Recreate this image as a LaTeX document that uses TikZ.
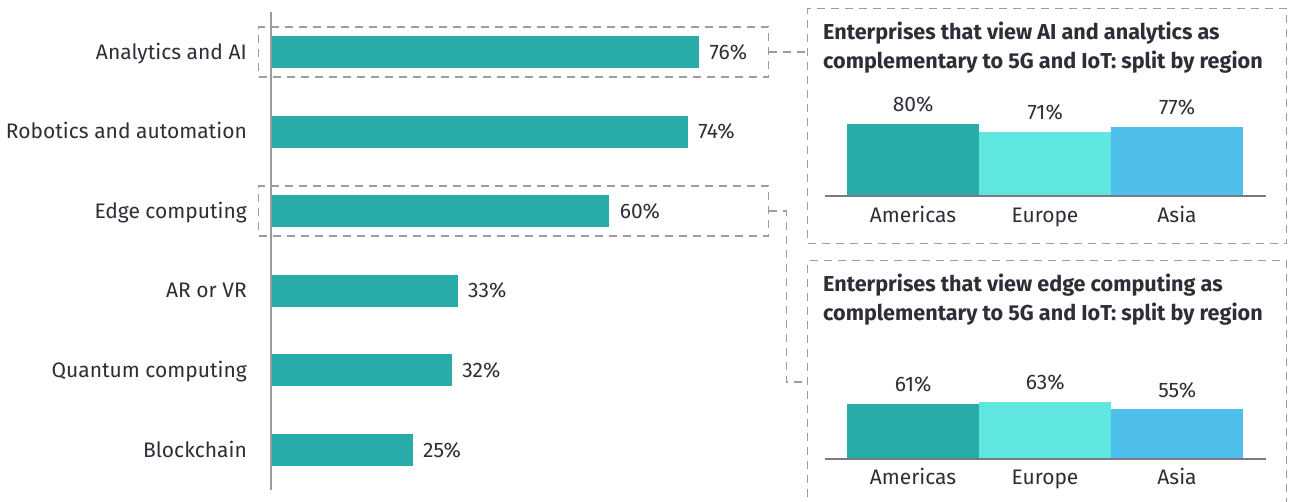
\documentclass[tikz,border=0pt]{standalone}
\usepackage{fontspec}
\setmainfont{Fira Sans}
\definecolor{teal1}{HTML}{27ACAA}
\definecolor{europe}{HTML}{60E6E1}
\definecolor{asia}{HTML}{4EBEEB}
\definecolor{txt}{HTML}{2E2E38}
\definecolor{axgray}{HTML}{9A9AA2}
\definecolor{ax2gray}{HTML}{7A7A84}
\definecolor{dgray}{HTML}{9C9CA3}
\begin{document}
\begin{tikzpicture}[x=1pt,y=-1pt,
  lbl/.style={font=\fontsize{21}{24}\selectfont, text=txt, inner sep=0pt},
  ttl/.style={font=\fontsize{21.6}{24}\selectfont\bfseries, text=txt, inner sep=0pt, anchor=base west},
  hbar/.style={fill=teal1, draw=none, inner sep=0pt, minimum height=32pt, anchor=west},
  vbar/.style={draw=none, inner sep=0pt, minimum width=132pt, anchor=south west},
  dashbox/.style={draw=dgray, line width=1.3pt, dash pattern=on 8pt off 6pt, inner sep=0pt},
  dashline/.style={draw=dgray, line width=1.3pt, dash pattern=on 8pt off 6pt},
  axisline/.style={draw=axgray, line width=2pt},
  baseline2/.style={draw=ax2gray, line width=1.6pt}]
\clip (0,0) rectangle (1290,501);
\fill[white] (0,0) rectangle (1290,501);

% dashed highlight boxes
\node[dashbox, minimum width=510pt, minimum height=50pt, anchor=west] (d1) at (258,52) {};
\node[dashbox, minimum width=510pt, minimum height=50pt, anchor=west] (d2) at (258,211) {};

% left axis
\coordinate (axtop) at (271,12);
\coordinate (axbot) at (271,490);
\draw[axisline] (axtop) -- (axbot);

% horizontal bars
\foreach \i/\name/\v/\lab in {0/Analytics and AI/76/b1,1/Robotics and automation/74/b2,2/Edge computing/60/b3,3/AR or VR/33/b4,4/Quantum computing/32/b5,5/Blockchain/25/b6}{
  \pgfmathsetmacro{\yc}{52+79.6*\i}
  \pgfmathsetmacro{\w}{5.62*\v}
  \node[hbar, minimum width=\w pt] (\lab) at (272,\yc) {};
  \node[lbl, anchor=base west] (\lab v) at ([xshift=10pt,yshift=-7pt]\lab.east) {\v\%};
  \node[lbl, anchor=base east] (\lab n) at (247,\yc+7) {\name};
}

% panels
\node[dashbox, minimum width=479pt, minimum height=235pt, anchor=north west] (p1) at (807,8) {};
\node[dashbox, minimum width=479pt, minimum height=270pt, anchor=north west] (p2) at (807,260) {};

% connectors
\draw[dashline] (d1.east) -- (d1.east -| p1.west);
\coordinate (e2) at (807,382);
\draw[dashline] (d2.east) -- ++(17,0) |- (e2);

% panel 1
\node[ttl] (t1a) at (823,39) {Enterprises that view AI and analytics as};
\node[ttl] (t1b) at (823,68) {complementary to 5G and IoT: split by region};
\node[vbar, fill=teal1, minimum height=72pt] (r1a) at (847,196) {};
\node[vbar, fill=europe, minimum height=63.9pt] (r1b) at (979,196) {};
\node[vbar, fill=asia, minimum height=69.3pt] (r1c) at (1111,196) {};
\coordinate (a1l) at (825,196);
\coordinate (a1r) at (1266,196);
\draw[baseline2] (a1l) -- (a1r);
\node[lbl, anchor=base] (v1a) at ([yshift=12pt]r1a.north) {80\%};
\node[lbl, anchor=base] (v1b) at ([yshift=12pt]r1b.north) {71\%};
\node[lbl, anchor=base] (v1c) at ([yshift=12pt]r1c.north) {77\%};
\node[lbl, anchor=base] (c1a) at (913,222) {Americas};
\node[lbl, anchor=base] (c1b) at (1045,222) {Europe};
\node[lbl, anchor=base] (c1c) at (1177,222) {Asia};

% panel 2
\node[ttl] (t2a) at (823,291) {Enterprises that view edge computing as};
\node[ttl] (t2b) at (823,320) {complementary to 5G and IoT: split by region};
\node[vbar, fill=teal1, minimum height=54.9pt] (r2a) at (847,459) {};
\node[vbar, fill=europe, minimum height=56.7pt] (r2b) at (979,459) {};
\node[vbar, fill=asia, minimum height=49.5pt] (r2c) at (1111,459) {};
\coordinate (a2l) at (825,459);
\coordinate (a2r) at (1266,459);
\draw[baseline2] (a2l) -- (a2r);
\node[lbl, anchor=base] (v2a) at ([yshift=12pt]r2a.north) {61\%};
\node[lbl, anchor=base] (v2b) at ([yshift=12pt]r2b.north) {63\%};
\node[lbl, anchor=base] (v2c) at ([yshift=12pt]r2c.north) {55\%};
\node[lbl, anchor=base] (c2a) at (913,484) {Americas};
\node[lbl, anchor=base] (c2b) at (1045,484) {Europe};
\node[lbl, anchor=base] (c2c) at (1177,484) {Asia};
\end{tikzpicture}
\end{document}
